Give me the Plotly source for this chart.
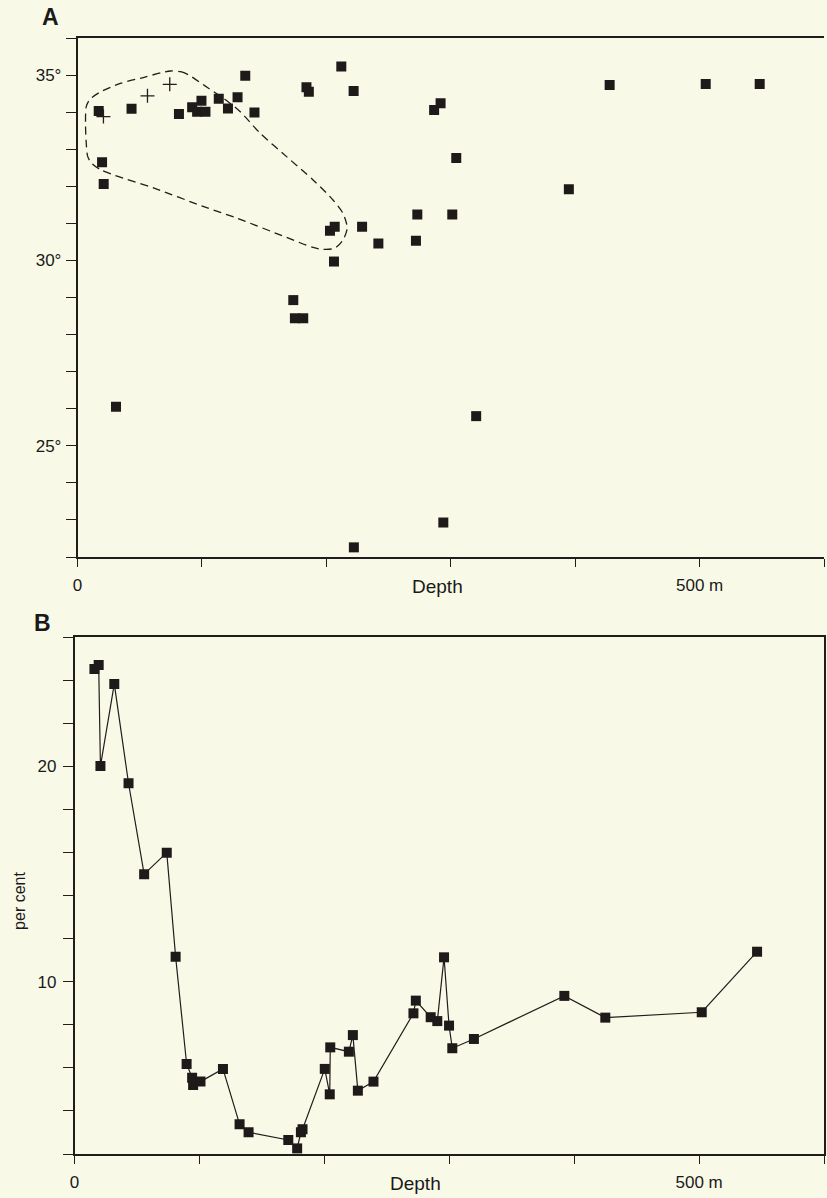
import plotly.graph_objects as go

W, H = 827, 1198

# ---- Panel A: temperature (deg) vs depth (m) ----
a_depth = [17.0, 43.4, 19.7, 21.0, 81.5, 92.1, 96.1, 99.6, 102.8, 113.5, 120.9, 128.6,
           134.8, 142.2, 184.0, 185.9, 212.0, 221.9, 202.9, 206.7, 206.1, 228.7, 241.8,
           273.1, 272.0, 173.4, 174.7, 181.4, 30.9, 222.1, 291.8, 286.6, 304.4, 427.7,
           504.9, 548.3, 394.9, 301.2, 320.4, 294.0]
a_temp = [34.03, 34.09, 32.65, 32.06, 33.95, 34.13, 34.01, 34.31, 34.01, 34.36, 34.10, 34.40,
          34.98, 33.99, 34.67, 34.55, 35.23, 34.57, 30.80, 30.91, 29.97, 30.91, 30.46,
          31.24, 30.53, 28.93, 28.44, 28.44, 26.05, 22.26, 34.24, 34.06, 32.76, 34.73,
          34.76, 34.76, 31.92, 31.24, 25.80, 22.93]

cross_depth = [56.2, 74.1, 20.8]
cross_temp = [34.44, 34.75, 33.88]

outline_depth = [74.9, 82.8, 89.5, 104.1, 117.4, 130.8, 146.8, 168.0, 189.3, 205.3, 213.3,
                 216.7, 213.3, 206.7, 197.3, 189.3, 168.0, 128.1, 101.5, 61.5, 29.6, 18.9,
                 11.4, 8.2, 7.0, 6.4, 7.0, 9.6, 17.6, 34.9, 53.5, 66.8, 74.9]
outline_temp = [35.11, 35.09, 35.00, 34.67, 34.37, 34.01, 33.43, 32.80, 32.17, 31.63, 31.27,
                30.87, 30.55, 30.33, 30.30, 30.35, 30.62, 31.14, 31.45, 31.95, 32.30, 32.44,
                32.62, 32.80, 33.16, 33.70, 34.15, 34.33, 34.53, 34.78, 34.94, 35.06, 35.11]

a_ytickvals = list(range(22, 37))
a_yticktext = ["25°" if v == 25 else "30°" if v == 30 else "35°" if v == 35 else "" for v in a_ytickvals]

# ---- Panel B: per cent vs depth (m) ----
b_depth = [15.9, 19.3, 20.7, 31.8, 43.2, 55.7, 73.8, 80.9, 89.7, 94.1, 94.9, 100.8, 118.8,
           132.1, 139.3, 171.1, 178.2, 181.2, 182.5, 200.3, 204.3, 204.7, 219.6, 222.8,
           226.8, 239.3, 271.3, 273.2, 285.1, 290.4, 295.8, 299.8, 302.4, 319.7, 392.1,
           424.9, 502.1, 546.4]
b_pct = [24.52, 24.70, 20.01, 23.82, 19.21, 14.99, 15.99, 11.16, 6.18, 5.54, 5.20, 5.36, 5.95,
         3.38, 3.01, 2.65, 2.26, 3.01, 3.15, 5.95, 4.77, 6.95, 6.75, 7.52,
         4.94, 5.36, 8.53, 9.12, 8.35, 8.17, 11.13, 7.96, 6.91, 7.34, 9.34,
         8.33, 8.58, 11.39]

b_ytickvals = list(range(2, 27, 2))
b_yticktext = ["10" if v == 10 else "20" if v == 20 else "" for v in b_ytickvals]

x_tickvals = [0, 100, 200, 300, 400, 500, 600]
x_ticktext = ["0", "", "", "", "", "500 m", ""]

INK = "#221c1c"
MARK = "#1e1a1a"
BG = "#f9f9e7"
FONT = "Liberation Sans, Arial, sans-serif"

fig = go.Figure()

fig.add_trace(go.Scatter(
    x=outline_depth, y=outline_temp, mode="lines", xaxis="x", yaxis="y",
    line=dict(color=INK, width=1.3, dash="8px,5px", shape="spline", smoothing=0.8),
    hoverinfo="skip", showlegend=False))
fig.add_trace(go.Scatter(
    x=a_depth, y=a_temp, mode="markers", xaxis="x", yaxis="y",
    marker=dict(symbol="square", size=10, color=MARK, line=dict(width=0)),
    showlegend=False))
fig.add_trace(go.Scatter(
    x=cross_depth, y=cross_temp, mode="markers", xaxis="x", yaxis="y",
    marker=dict(symbol="cross-thin", size=10, line=dict(color=INK, width=1.3)),
    showlegend=False))

fig.add_trace(go.Scatter(
    x=b_depth, y=b_pct, mode="lines+markers", xaxis="x2", yaxis="y2",
    line=dict(color=INK, width=1.2),
    marker=dict(symbol="square", size=10, color=MARK, line=dict(width=0)),
    showlegend=False))

axis_common = dict(showgrid=False, zeroline=False, showline=True, linecolor=INK,
                   linewidth=1.5, ticks="outside", tickcolor=INK, tickwidth=1.3,
                   tickfont=dict(family=FONT, size=17, color="#1a1a1a"))

fig.update_layout(
    width=W, height=H,
    margin=dict(l=0, r=0, t=0, b=0),
    paper_bgcolor=BG, plot_bgcolor=BG,
    xaxis=dict(domain=[73 / W, 824 / W], range=[0, 600], anchor="y", mirror=True,
               tickvals=x_tickvals, ticktext=x_ticktext, ticklen=8,
               ticklabelstandoff=4, **axis_common),
    yaxis=dict(domain=[1 - 557 / H, 1 - 38 / H], range=[22, 36], anchor="x",
               tickvals=a_ytickvals, ticktext=a_yticktext, ticklen=10,
               ticklabelstandoff=1, **axis_common),
    xaxis2=dict(domain=[70 / W, 824 / W], range=[0, 600], anchor="y2", mirror=True,
                tickvals=x_tickvals, ticktext=x_ticktext, ticklen=8,
                ticklabelstandoff=4, **axis_common),
    yaxis2=dict(domain=[1 - 1154 / H, 1 - 637 / H], range=[2, 26], anchor="x2", mirror=True,
                tickvals=b_ytickvals, ticktext=b_yticktext, ticklen=10,
                ticklabelstandoff=3, **axis_common),
)

def ann(text, px, py, size, bold=False, angle=0):
    fig.add_annotation(
        text=f"<b>{text}</b>" if bold else text,
        x=px / W, y=1 - py / H, xref="paper", yref="paper",
        xanchor="center", yanchor="middle", showarrow=False, textangle=angle,
        font=dict(family=FONT, size=size, color="#1a1a1a"))

ann("A", 46, 17, 23, bold=True)
ann("B", 38, 623, 23, bold=True)
ann("Depth", 435, 586, 19)
ann("Depth", 413, 1183, 19)
ann("per cent", 14, 901, 16, angle=-90)

fig.write_html(
    "out.html",
    config={"displayModeBar": False},
    post_script="document.body.style.margin='0';document.body.style.overflow='hidden';",
)
